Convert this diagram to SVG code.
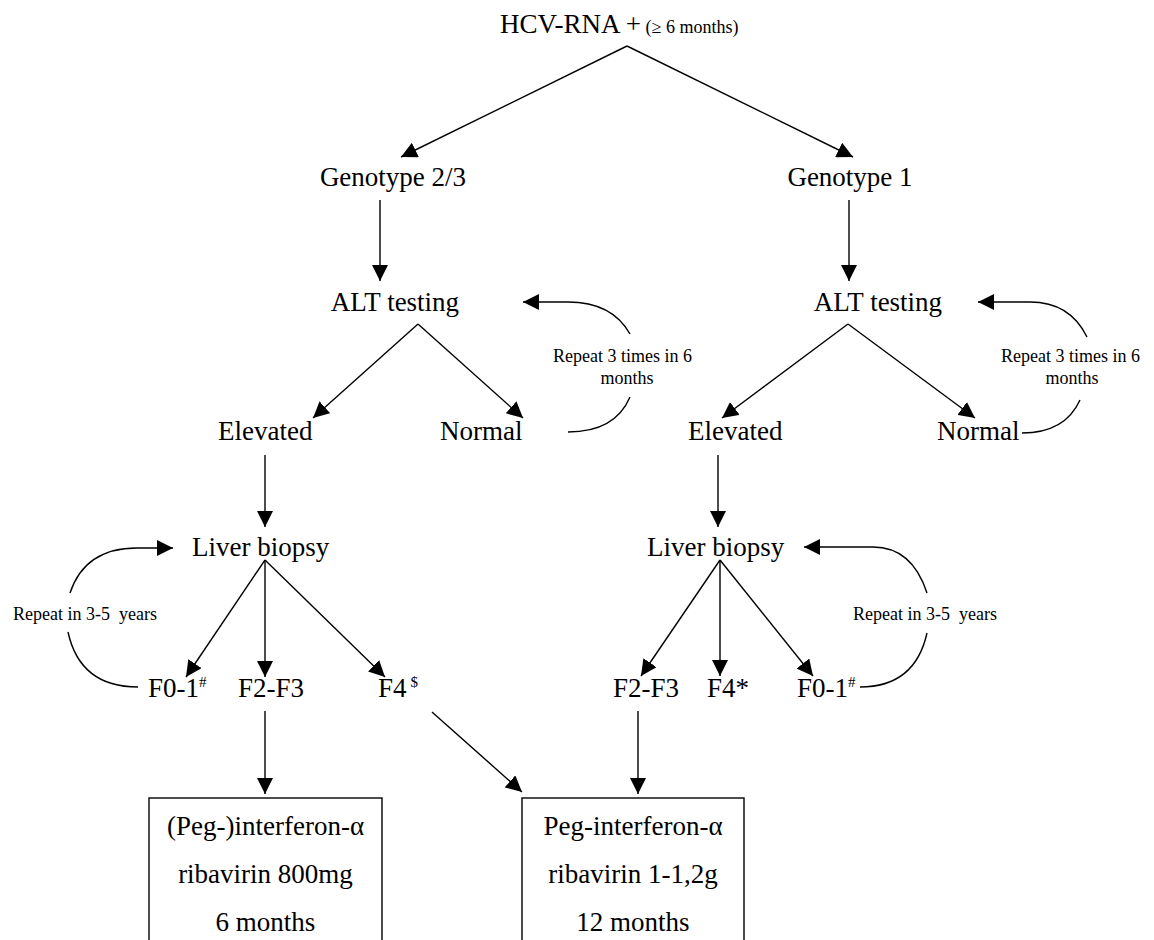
<svg xmlns="http://www.w3.org/2000/svg" width="1154" height="940" viewBox="0 0 1154 940">
<style>
text{font-family:"Liberation Serif","Times New Roman",serif;fill:#000}
.n{font-size:27px}
.s{font-size:18px}
.sup{font-size:15px}
.c{fill:none;stroke:#000;stroke-width:1.4}
.box{fill:#fff;stroke:#000;stroke-width:1.4}
</style>
<defs>
<marker id="ah" markerUnits="userSpaceOnUse" markerWidth="18" markerHeight="16" refX="16" refY="8" orient="auto">
<path d="M0,0 L16,8 L0,16 Z" fill="#000"/>
</marker>
</defs>
<rect width="1154" height="940" fill="#fff"/>
<g id="connectors">
<path class="c" d="M627,46 L401,157" marker-end="url(#ah)"/>
<path class="c" d="M627,46 L853,157" marker-end="url(#ah)"/>
<path class="c" d="M380,200 L380,281" marker-end="url(#ah)"/>
<path class="c" d="M849,200 L849,281" marker-end="url(#ah)"/>
<path class="c" d="M418,324 L313,418" marker-end="url(#ah)"/>
<path class="c" d="M418,324 L523,418" marker-end="url(#ah)"/>
<path class="c" d="M848,324 L722,418" marker-end="url(#ah)"/>
<path class="c" d="M848,324 L975,418" marker-end="url(#ah)"/>
<path class="c" d="M630,334 Q612,302 568,302 L523,302" marker-end="url(#ah)"/>
<path class="c" d="M630,397 Q615,432 568,432"/>
<path class="c" d="M1087,337 Q1070,302 1030,302 L978,302" marker-end="url(#ah)"/>
<path class="c" d="M1080,400 Q1065,433 1022,433"/>
<path class="c" d="M265,455 L265,527" marker-end="url(#ah)"/>
<path class="c" d="M718,455 L718,527" marker-end="url(#ah)"/>
<path class="c" d="M70,593 Q85,548 137,548 L173,548" marker-end="url(#ah)"/>
<path class="c" d="M68,632 Q80,687 138,687"/>
<path class="c" d="M927,593 Q912,547 873,547 L804,547" marker-end="url(#ah)"/>
<path class="c" d="M927,633 Q915,687 860,687"/>
<path class="c" d="M265,560 L186,677" marker-end="url(#ah)"/>
<path class="c" d="M265,560 L265,677" marker-end="url(#ah)"/>
<path class="c" d="M265,560 L385,677" marker-end="url(#ah)"/>
<path class="c" d="M720,560 L641,676" marker-end="url(#ah)"/>
<path class="c" d="M720,560 L720,676" marker-end="url(#ah)"/>
<path class="c" d="M720,560 L813,676" marker-end="url(#ah)"/>
<path class="c" d="M265,711 L265,794" marker-end="url(#ah)"/>
<path class="c" d="M638,711 L638,794" marker-end="url(#ah)"/>
<path class="c" d="M432,712 L522,792" marker-end="url(#ah)"/>
</g>
<g id="hcv"><text x="500" y="33"><tspan style="font-size:27px">HCV-RNA +</tspan><tspan style="font-size:18px"> (≥ 6 months)</tspan></text></g>
<g id="geno23"><text class="n" x="393" y="186" text-anchor="middle">Genotype 2/3</text></g>
<g id="geno1"><text class="n" x="850" y="186" text-anchor="middle">Genotype 1</text></g>
<g id="alt1"><text class="n" x="395" y="311" text-anchor="middle">ALT testing</text></g>
<g id="alt2"><text class="n" x="878" y="311" text-anchor="middle">ALT testing</text></g>
<g id="rep1"><text class="s" x="553" y="362">Repeat 3 times in 6</text><text class="s" x="627" y="384" text-anchor="middle">months</text></g>
<g id="rep2"><text class="s" x="1001" y="362">Repeat 3 times in 6</text><text class="s" x="1072" y="384" text-anchor="middle">months</text></g>
<g id="elev1"><text class="n" x="218" y="440">Elevated</text></g>
<g id="norm1"><text class="n" x="440" y="440">Normal</text></g>
<g id="elev2"><text class="n" x="688" y="440">Elevated</text></g>
<g id="norm2"><text class="n" x="937" y="440">Normal</text></g>
<g id="lb1"><text class="n" x="192" y="556">Liver biopsy</text></g>
<g id="lb2"><text class="n" x="647" y="556">Liver biopsy</text></g>
<g id="rep3"><text class="s" x="13" y="620" xml:space="preserve">Repeat in 3-5  years</text></g>
<g id="rep4"><text class="s" x="853" y="620" xml:space="preserve">Repeat in 3-5  years</text></g>
<g id="f01a"><text class="n" x="148" y="697">F0-1<tspan class="sup" dy="-10">#</tspan></text></g>
<g id="f23a"><text class="n" x="238" y="697">F2-F3</text></g>
<g id="f4a"><text class="n" x="378" y="697">F4<tspan class="sup" dx="4" dy="-10">$</tspan></text></g>
<g id="f23b"><text class="n" x="613" y="697">F2-F3</text></g>
<g id="f4b"><text class="n" x="707" y="697">F4*</text></g>
<g id="f01b"><text class="n" x="797" y="697">F0-1<tspan class="sup" dy="-10">#</tspan></text></g>
<g id="box1"><rect class="box" x="149" y="798" width="233" height="160"/>
<text class="n" x="265.5" y="835" text-anchor="middle">(Peg-)interferon-α</text>
<text class="n" x="265.5" y="883" text-anchor="middle">ribavirin 800mg</text>
<text class="n" x="265.5" y="931" text-anchor="middle">6 months</text></g>
<g id="box2"><rect class="box" x="522" y="798" width="222" height="160"/>
<text class="n" x="633" y="835" text-anchor="middle">Peg-interferon-α</text>
<text class="n" x="633" y="883" text-anchor="middle">ribavirin 1-1,2g</text>
<text class="n" x="633" y="931" text-anchor="middle">12 months</text></g>
</svg>
